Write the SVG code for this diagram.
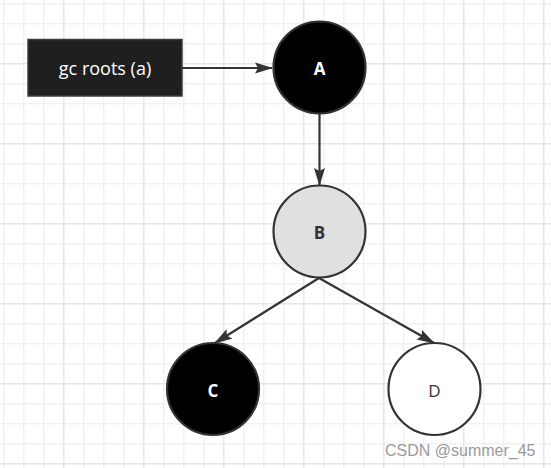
<svg xmlns="http://www.w3.org/2000/svg" width="551" height="468" viewBox="0 0 551 468">
  <defs>
    <pattern id="minor" x="3.3" y="3.3" width="20" height="20" patternUnits="userSpaceOnUse">
      <path d="M0 0.5 H20 M0.5 0 V20" fill="none" stroke="#ebebeb" stroke-width="1"/>
    </pattern>
    <pattern id="major" x="63.3" y="63.3" width="80" height="80" patternUnits="userSpaceOnUse">
      <path d="M0 0.5 H80 M0.5 0 V80" fill="none" stroke="#e2e2e2" stroke-width="1.2"/>
    </pattern>
    <marker id="arrow" viewBox="0 0 18 12" refX="17" refY="6" markerWidth="18" markerHeight="12" markerUnits="userSpaceOnUse" orient="auto">
      <path d="M0 0.5 L18 6 L0 11.5 L3 6 Z" fill="#333333"/>
    </marker>
    <style>
      .node { stroke: #333333; stroke-width: 2.2; }
      .lbl { font-family: "Open Sans", "Noto Sans", "Liberation Sans", sans-serif; font-size: 17px; text-anchor: middle; dominant-baseline: central; }
      .big { font-size: 18px; }
      .edge { stroke: #333333; stroke-width: 2.2; fill: none; marker-end: url(#arrow); }
    </style>
  </defs>
  <rect width="551" height="468" fill="#ffffff"/>
  <rect width="551" height="468" fill="url(#minor)"/>
  <rect width="551" height="468" fill="url(#major)"/>

  <g id="connectors">
    <line class="edge" x1="182" y1="68" x2="272" y2="68"/>
    <line class="edge" x1="319.5" y1="114" x2="319.5" y2="185"/>
    <line class="edge" x1="319" y1="278" x2="215" y2="343"/>
    <line class="edge" x1="319" y1="278" x2="434" y2="343"/>
  </g>

  <g id="gcroots">
    <rect x="28" y="39.5" width="154" height="56.5" fill="#1f1f1f" stroke="#3d3d3d" stroke-width="1.5"/>
    <text class="lbl big" x="105" y="68" fill="#ffffff">gc roots (a)</text>
  </g>
  <g id="A">
    <circle class="node" cx="319.5" cy="67.5" r="46" fill="#000000"/>
    <text class="lbl" x="319.5" y="68" fill="#ffffff" font-weight="bold">A</text>
  </g>
  <g id="B">
    <circle class="node" cx="319.5" cy="231.5" r="46" fill="#e0e0e0"/>
    <text class="lbl" x="319.5" y="232" fill="#333333" font-weight="bold">B</text>
  </g>
  <g id="C">
    <circle class="node" cx="213" cy="389" r="46" fill="#000000"/>
    <text class="lbl" x="213" y="390" fill="#ffffff" font-weight="bold">C</text>
  </g>
  <g id="D">
    <circle class="node" cx="434.5" cy="389" r="46" fill="#ffffff"/>
    <text class="lbl" x="434.5" y="390" fill="#333333">D</text>
  </g>
  <text x="385" y="456" font-family="Liberation Sans, Arial, sans-serif" font-size="16" fill="#9a9a9a">CSDN @summer_45</text>
</svg>
